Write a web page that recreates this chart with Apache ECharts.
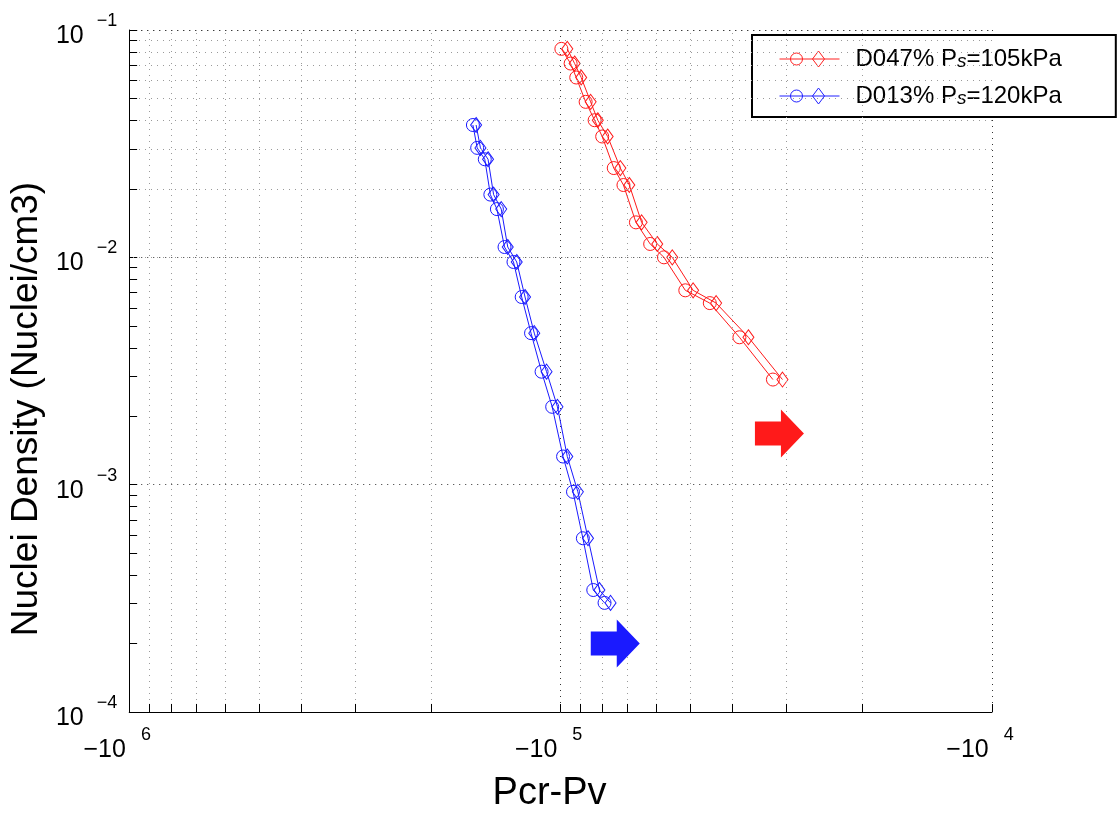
<!DOCTYPE html>
<html><head><meta charset="utf-8">
<script src="https://cdn.jsdelivr.net/npm/echarts@6/dist/echarts.min.js"></script>
<style>html,body{margin:0;padding:0;background:#fff}#c{width:1117px;height:818px}</style>
</head><body><div id="c"></div>
<script>
// ---- data (Pcr-Pv in Pa, nuclei density in 1/cm3) ----
const seriesNames = ['D047% Ps=105kPa', 'D013% Ps=120kPa'];

const redDensity = [0.0826, 0.0712, 0.0618, 0.0483, 0.0401, 0.0340, 0.0247, 0.0208, 0.01425, 0.01145, 0.0100, 0.00716, 0.00629, 0.00445, 0.00290];
const redPcrPvCircle = [-99600, -94800, -92000, -87500, -83400, -80100, -75300, -71500, -66900, -62000, -57600, -51400, -45100, -38500, -32200];
const redPcrPvDiamond = [-96500, -92800, -89600, -85200, -82000, -77800, -72700, -69300, -64900, -59700, -55100, -49300, -43600, -36700, -30600];

const blueDensity = [0.0382, 0.0303, 0.0270, 0.01888, 0.0163, 0.0111, 0.00954, 0.00669, 0.00464, 0.00314, 0.00220, 0.00133, 0.00093, 0.000581, 0.000344, 0.000302];
const bluePcrPvCircle = [-159700, -156100, -149900, -145500, -140500, -134900, -128600, -123100, -117100, -110700, -104600, -98700, -93600, -88800, -84000, -79100];
const bluePcrPvDiamond = [-157000, -153400, -147300, -143000, -137300, -132600, -126400, -120900, -115100, -107800, -101700, -96500, -91200, -86400, -81300, -76600];

// annotation arrows (data coordinates)
const redArrow = [-31100, 1.68e-3];
const blueArrow = [-74700, 2.0e-4];

// axes
const xRange = [-1e6, -1e4];
const yRange = [1e-4, 1e-1];
const minorMultipliers = [2, 3, 4, 5, 6, 7, 8, 9];
const xDecades = [1e4, 1e5];
const yDecades = [1e-4, 1e-3, 1e-2];

const FONT = "'Liberation Sans', Arial, sans-serif";

const xMinor = [];
xDecades.forEach(d => minorMultipliers.forEach(m => xMinor.push(d * m)));
const yMinor = [];
yDecades.forEach(d => minorMultipliers.forEach(m => yMinor.push(+(d * m).toPrecision(3))));

const xMin = Math.abs(xRange[1]), xMax = Math.abs(xRange[0]);
const yMin = yRange[0], yMax = yRange[1];
const tickX = 1.085;   // minor tick length factors (log space)
const tickY = 1.043;

const minorStyle = {color: '#9a9a9a', width: 1, type: [1, 5]};
const tickStyle = {color: '#000', width: 1, type: 'solid'};

const gridLines = [];
xMinor.forEach(v => gridLines.push({xAxis: v, lineStyle: minorStyle}));
yMinor.forEach(v => gridLines.push({yAxis: v, lineStyle: minorStyle}));
xMinor.forEach(v => gridLines.push([{coord: [v, yMin], lineStyle: tickStyle}, {coord: [v, yMin * tickX]}]));
yMinor.forEach(v => gridLines.push([{coord: [xMax, v], lineStyle: tickStyle}, {coord: [xMax / tickY, v]}]));

const arrowPath = 'path://M0,12 L26,12 L26,0 L49,24 L26,48 L26,36 L0,36 Z';
const legendIcon = 'path://M0,8 L60,8 M23,8 A6,6 0 1 1 11,8 A6,6 0 1 1 23,8 M39,0 L45,8 L39,16 L33,8 Z';

function pts(xs, ys) { return xs.map((p, i) => [Math.abs(p), ys[i]]); }

function mk(name, xs, ys, symbol, size, color, arrow) {
  const s = {
    name: name, type: 'line', z: 3,
    data: pts(xs, ys),
    symbol: symbol, symbolSize: size, showAllSymbol: true,
    lineStyle: {color: color, width: 1},
    itemStyle: {color: 'transparent', borderColor: color, borderWidth: 1},
    emphasis: {disabled: true}
  };
  if (arrow) {
    s.markPoint = {
      silent: true, symbol: arrowPath, symbolSize: [49, 48],
      label: {show: false},
      itemStyle: {color: color},
      data: [{coord: [Math.abs(arrow[0]), arrow[1]]}]
    };
  }
  return s;
}

const chart = echarts.init(document.getElementById('c'));
chart.setOption({
  animation: false,
  backgroundColor: '#fff',
  grid: {left: 122, right: 125, top: 30, bottom: 100},
  legend: {
    orient: 'vertical', left: 752, top: 35,
    padding: [12, 54, 9, 25],
    itemGap: 13, itemWidth: 60, itemHeight: 16,
    backgroundColor: '#fff', borderColor: '#000', borderWidth: 2,
    selectedMode: false,
    data: [
      {name: seriesNames[0], icon: legendIcon, itemStyle: {color: 'none', borderColor: '#ff2020', borderWidth: 1}},
      {name: seriesNames[1], icon: legendIcon, itemStyle: {color: 'none', borderColor: '#2020ff', borderWidth: 1}}
    ],
    formatter: n => '{g| }{t|' + n.replace('Ps', 'P}{s|s}{t|') + '}',
    textStyle: {
      rich: {
        g: {width: 11, fontSize: 24, lineHeight: 24},
        t: {fontSize: 24, lineHeight: 24, fontFamily: FONT, color: '#000'},
        s: {fontSize: 19, lineHeight: 19, fontStyle: 'italic', verticalAlign: 'bottom', fontFamily: FONT, color: '#000'}
      }
    }
  },
  xAxis: {
    type: 'log', logBase: 10, min: xMin, max: xMax, inverse: true,
    name: 'Pcr-Pv', nameLocation: 'middle', nameGap: 63,
    nameTextStyle: {fontSize: 38, fontFamily: FONT, color: '#000', padding: [0, 22, 0, 0]},
    axisLine: {show: true, lineStyle: {color: '#000', width: 1}},
    axisTick: {show: true, inside: true, length: 8, lineStyle: {color: '#000'}},
    splitLine: {show: true, lineStyle: {color: '#333', width: 1, type: [1, 5]}},
    axisLabel: {
      margin: 14, showMinLabel: true, showMaxLabel: true,
      formatter: v => '{b|\u221210}{s|' + Math.round(Math.log10(v)) + '}',
      rich: {
        b: {fontSize: 25, lineHeight: 48, fontFamily: FONT, color: '#000'},
        s: {fontSize: 18, lineHeight: 14, verticalAlign: 'top', padding: [0, 24, 0, 15], fontFamily: FONT, color: '#000'}
      }
    }
  },
  yAxis: {
    type: 'log', logBase: 10, min: yMin, max: yMax,
    name: 'Nuclei Density (Nuclei/cm3)', nameLocation: 'middle', nameGap: 74, nameRotate: 90,
    nameTextStyle: {fontSize: 37, fontFamily: FONT, color: '#000', padding: [0, 76, 0, 0]},
    axisLine: {show: true, lineStyle: {color: '#000', width: 1}},
    axisTick: {show: true, inside: true, length: 8, lineStyle: {color: '#000'}},
    splitLine: {show: true, lineStyle: {color: '#333', width: 1, type: [1, 5]}},
    axisLabel: {
      margin: 12, padding: [12, 0, 0, 0], showMinLabel: true, showMaxLabel: true,
      formatter: v => '{b|10}{s|\u2212' + (-Math.round(Math.log10(v))) + '}',
      rich: {
        b: {fontSize: 25, lineHeight: 48, fontFamily: FONT, color: '#000'},
        s: {fontSize: 18, lineHeight: 14, verticalAlign: 'top', padding: [0, 0, 0, 13], fontFamily: FONT, color: '#000'}
      }
    }
  },
  series: [
    {name: 'grid', type: 'line', data: [], z: 1, silent: true,
     markLine: {silent: true, symbol: 'none', label: {show: false}, animation: false, data: gridLines}},
    mk(seriesNames[0], redPcrPvCircle, redDensity, 'circle', 13, '#ff1a1a', redArrow),
    mk(seriesNames[0], redPcrPvDiamond, redDensity, 'diamond', [11, 15], '#ff1a1a', null),
    mk(seriesNames[1], bluePcrPvCircle, blueDensity, 'circle', 13, '#1a1aff', blueArrow),
    mk(seriesNames[1], bluePcrPvDiamond, blueDensity, 'diamond', [11, 15], '#1a1aff', null)
  ]
});
</script></body></html>
